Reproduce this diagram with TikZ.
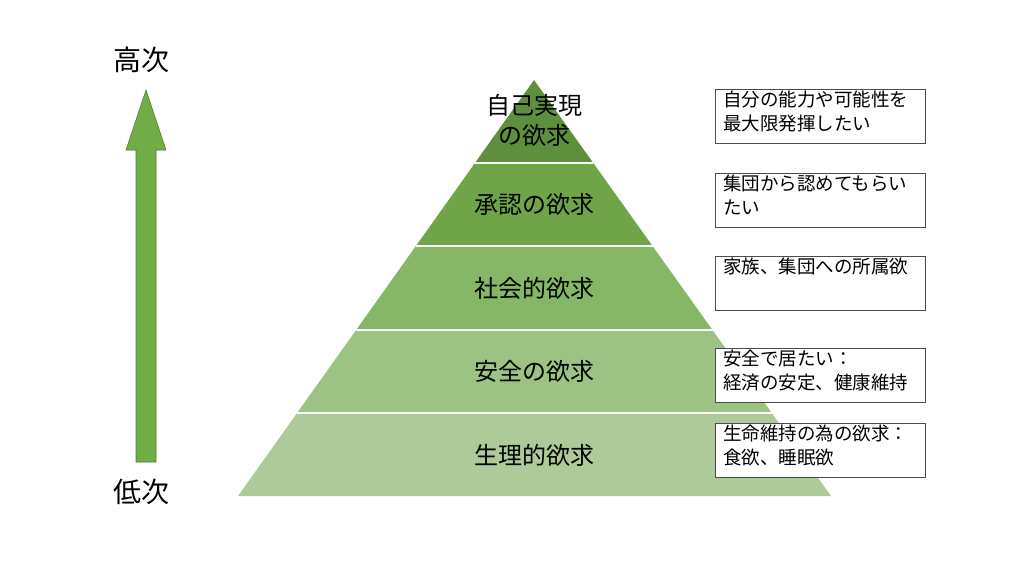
\documentclass[tikz,border=0pt]{standalone}
\usepackage{fontspec}
\setmainfont{Noto Sans CJK JP}
\usetikzlibrary{calc}
\definecolor{c1}{HTML}{5E8F3D}
\definecolor{c2}{HTML}{6FA548}
\definecolor{c3}{HTML}{86B766}
\definecolor{c4}{HTML}{9DC384}
\definecolor{c5}{HTML}{AECA98}
\definecolor{ar}{HTML}{70AD47}
\tikzset{lay/.style={text=black,font=\fontsize{24}{30}\selectfont},
 desc/.style={draw=black!70,fill=white,line width=0.8pt,minimum width=210pt,minimum height=54pt,anchor=north west,inner sep=0pt},
 dtxt/.style={anchor=north west,align=left,font=\fontsize{18.5}{24}\selectfont,inner sep=0pt}}
\begin{document}
\begin{tikzpicture}[x=1pt,y=-1pt]
\useasboundingbox (0,0) rectangle (1024,576);
\coordinate (A) at (534,80);
\coordinate (L) at (238,496);
\coordinate (R) at (831,496);
\foreach \i/\ta/\tb/\c in {1/0/0.1995/c1,2/0.1995/0.399/c2,3/0.399/0.601/c3,4/0.601/0.8005/c4,5/0.8005/1/c5}{
  \fill[\c] ($(A)!\ta!(L)$) -- ($(A)!\tb!(L)$) -- ($(A)!\tb!(R)$) -- ($(A)!\ta!(R)$) -- cycle;
}
\foreach \t in {0.1995,0.399,0.601,0.8005}{
  \draw[white,line width=1.2pt] ($(A)!\t!(L)$) -- ($(A)!\t!(R)$);
}
\node[lay,align=center] (n1) at (534,120) {自己実現\\の欲求};
\node[lay] (n2) at (534,204) {承認の欲求};
\node[lay] (n3) at (534,288) {社会的欲求};
\node[lay] (n4) at (534,371) {安全の欲求};
\node[lay] (n5) at (534,455) {生理的欲求};
\node[desc] (b1) at (715,89) {};
\node[desc] (b2) at (715,173) {};
\node[desc] (b3) at (715,256) {};
\node[desc] (b4) at (715,348) {};
\node[desc] (b5) at (715,423) {};
\node[dtxt] at (723,91) {自分の能力や可能性を\\最大限発揮したい};
\node[dtxt] at (723,175) {集団から認めてもらい\\たい};
\node[dtxt] at (723,258) {家族、集団への所属欲};
\node[dtxt] at (723,350) {安全で居たい：\\経済の安定、健康維持};
\node[dtxt] at (723,425) {生命維持の為の欲求：\\食欲、睡眠欲};
\fill[ar,draw=ar!70!black,line width=0.6pt] (136,462) -- (136,150) -- (126,150) -- (146,90) -- (166,150) -- (156,150) -- (156,462) -- cycle;
\node[font=\fontsize{28}{32}\selectfont] (hi) at (141,60) {高次};
\node[font=\fontsize{28}{32}\selectfont] (lo) at (141,492) {低次};
\end{tikzpicture}
\end{document}
